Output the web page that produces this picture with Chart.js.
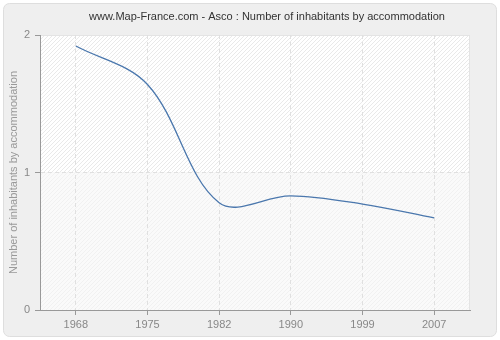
<!DOCTYPE html>
<html>
<head>
<meta charset="utf-8">
<script src="https://cdn.jsdelivr.net/npm/chart.js@4/dist/chart.umd.min.js"></script>
<style>
    html, body { margin: 0; padding: 0; background: #fff; }
    #box { width: 500px; height: 340px; }
</style>
</head>
<body>
<div id="box"><canvas id="asco"></canvas></div>
<script>
const years = ['1968', '1975', '1982', '1990', '1999', '2007'];
const inhabitants = [1.92, 1.64, 0.78, 0.83, 0.77, 0.67];
const yTicks = [0, 1, 2];
const chartTitle = 'www.Map-France.com - Asco : Number of inhabitants by accommodation';
const yTitle = 'Number of inhabitants by accommodation';

const font = "'Liberation Sans', Arial, sans-serif";

function hatch(bg, line) {
    const c = document.createElement('canvas');
    c.width = 4;
    c.height = 4;
    const g = c.getContext('2d');
    g.fillStyle = bg;
    g.fillRect(0, 0, 4, 4);
    g.fillStyle = line;
    for (let i = 0; i < 4; i++) g.fillRect(i, 3 - i, 1, 1);
    return g.createPattern(c, 'repeat');
}

// outer grey panel + hatched plot area
const backdrop = {
    id: 'backdrop',
    beforeDraw(chart) {
        const ctx = chart.ctx;
        const area = chart.chartArea;
        ctx.save();
        ctx.fillStyle = '#efefef';
        ctx.strokeStyle = '#dedede';
        ctx.lineWidth = 1;
        ctx.beginPath();
        ctx.roundRect(3.5, 3.5, 493, 333, 6);
        ctx.fill();
        ctx.stroke();

        const mid = chart.scales.y.getPixelForValue(1);
        ctx.fillStyle = hatch('#ffffff', '#e9e9e9');
        ctx.fillRect(area.left, area.top, area.right - area.left, mid - area.top);
        ctx.fillStyle = hatch('#fafafa', '#f1f1f1');
        ctx.fillRect(area.left, mid, area.right - area.left, area.bottom - mid);
        ctx.strokeStyle = '#e4e4e4';
        ctx.strokeRect(area.left + 0.5, area.top + 0.5, area.right - area.left - 1, area.bottom - area.top);

        ctx.fillStyle = '#333';
        ctx.font = '11px ' + font;
        ctx.textAlign = 'center';
        ctx.textBaseline = 'middle';
        ctx.fillText(chartTitle, 267, 17);
        ctx.restore();
    }
};

new Chart(document.getElementById('asco'), {
    type: 'line',
    data: {
        labels: years,
        datasets: [{
            data: inhabitants,
            borderColor: '#4a77ad',
            borderWidth: 1.3,
            pointRadius: 0,
            tension: 0.35,
            fill: false
        }]
    },
    options: {
        responsive: true,
        maintainAspectRatio: false,
        animation: false,
        layout: { padding: { top: 35, right: 30, left: 0, bottom: 0 } },
        plugins: {
            legend: { display: false },
            tooltip: { enabled: false }
        },
        scales: {
            x: {
                offset: true,
                afterFit: s => { s.height = 30; },
                grid: {
                    color: '#e0e0e0',
                    tickColor: '#999',
                    tickLength: 5,
                    offset: false
                },
                border: { color: '#999', dash: [4, 3] },
                ticks: { color: '#888', font: { family: font, size: 11 }, padding: 3 }
            },
            y: {
                min: 0,
                max: 2,
                afterFit: s => { s.width = 40; },
                afterBuildTicks: s => { s.ticks = yTicks.map(v => ({ value: v })); },
                grid: {
                    color: c => (c.tick && c.tick.value === 1) ? '#e0e0e0' : 'rgba(0,0,0,0)',
                    tickColor: '#999',
                    tickLength: 5
                },
                border: { color: '#999', dash: [4, 3] },
                ticks: { color: '#888', font: { family: font, size: 11 }, padding: 5 },
                title: {
                    display: true,
                    text: yTitle,
                    color: '#999',
                    font: { family: font, size: 11 },
                    padding: { top: 7, bottom: 0 }
                }
            }
        }
    },
    plugins: [backdrop]
});
</script>
</body>
</html>
